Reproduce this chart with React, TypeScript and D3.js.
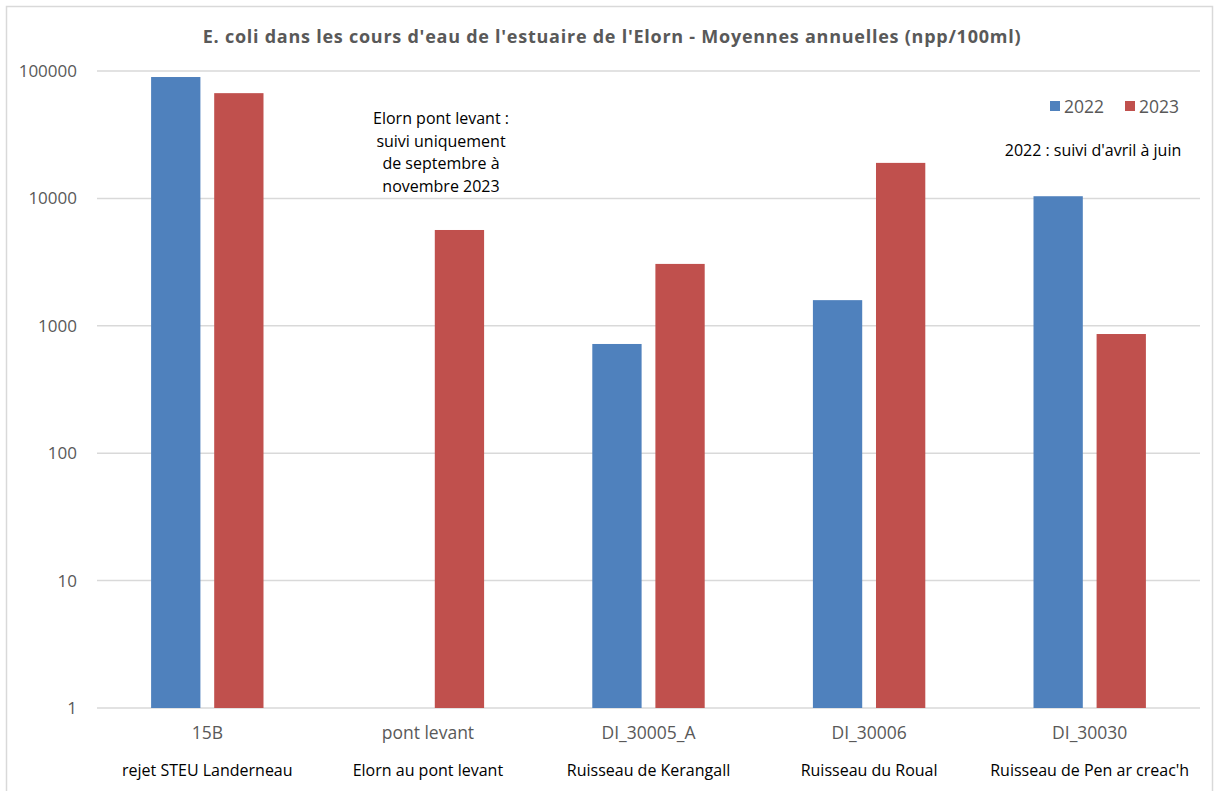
import React from "react";
import * as d3 from "d3";

const categories = ["15B", "pont levant", "DI_30005_A", "DI_30006", "DI_30030"];
const subLabels = [
  "rejet STEU Landerneau",
  "Elorn au pont levant",
  "Ruisseau de Kerangall",
  "Ruisseau du Roual",
  "Ruisseau de Pen ar creac'h",
];
const values2022: (number | null)[] = [89700, null, 720, 1590, 10400];
const values2023: (number | null)[] = [67000, 5650, 3060, 19000, 862];
const seriesNames = ["2022", "2023"];
const seriesColors = ["#4F81BD", "#C0504D"];
const yTicks = [1, 10, 100, 1000, 10000, 100000];
const title =
  "E. coli dans les cours d'eau de l'estuaire de l'Elorn - Moyennes annuelles (npp/100ml)";
const noteLeft = [
  "Elorn pont levant :",
  "suivi uniquement",
  "de septembre à",
  "novembre 2023",
];
const noteRight = "2022 : suivi d'avril à juin";

const W = 1217;
const H = 791;
const plot = { left: 97, right: 1200, top: 71, bottom: 708 };
const FONT = "'Open Sans', sans-serif";

export default function App() {
  const y = d3
    .scaleLog()
    .domain([1, 100000])
    .range([plot.bottom, plot.top]);
  const x = d3
    .scaleBand<string>()
    .domain(categories)
    .range([plot.left, plot.right]);
  const band = x.bandwidth();
  const barW = band * 0.2235;
  const gap = band * 0.0625;
  const series = [values2022, values2023];

  return (
    <svg
      width={W}
      height={H}
      style={{ position: "absolute", left: 0, top: 0, background: "#fff" }}
      fontFamily={FONT}
    >
      <rect x={0} y={0} width={W} height={H} fill="#fff" />
      <rect
        x={6.5}
        y={6.5}
        width={1206}
        height={790}
        fill="none"
        stroke="#D9D9D9"
        strokeWidth={1.5}
      />
      <text
        x={612}
        y={43}
        textAnchor="middle"
        fontSize={18}
        letterSpacing={0.75}
        fontWeight="bold"
        fill="#595959"
      >
        {title}
      </text>
      {yTicks.map((t) => (
        <g key={t}>
          <line
            x1={plot.left}
            x2={plot.right}
            y1={y(t)}
            y2={y(t)}
            stroke="#D9D9D9"
            strokeWidth={1.5}
          />
          <text
            x={77}
            y={y(t)}
            dy="0.35em"
            textAnchor="end"
            fontSize={17}
            fill="#595959"
          >
            {t}
          </text>
        </g>
      ))}
      {categories.map((c, i) => {
        const cx = (x(c) as number) + band / 2;
        return (
          <g key={c}>
            {series.map((s, si) => {
              const v = s[i];
              if (v == null) return null;
              const bx = si === 0 ? cx - gap / 2 - barW : cx + gap / 2;
              return (
                <rect
                  key={si}
                  x={bx}
                  y={y(v)}
                  width={barW}
                  height={plot.bottom - y(v)}
                  fill={seriesColors[si]}
                />
              );
            })}
            <text
              x={cx}
              y={739}
              textAnchor="middle"
              fontSize={17.5}
              fill="#595959"
            >
              {c}
            </text>
            <text x={cx} y={776} textAnchor="middle" fontSize={16} fill="#000">
              {subLabels[i]}
            </text>
          </g>
        );
      })}
      {seriesNames.map((n, i) => {
        const lx = 1050 + i * 75;
        return (
          <g key={n}>
            <rect x={lx} y={101} width={10} height={10} fill={seriesColors[i]} />
            <text x={lx + 14} y={112.5} fontSize={17.5} fill="#595959">
              {n}
            </text>
          </g>
        );
      })}
      <text x={1093} y={156} textAnchor="middle" fontSize={16} fill="#000">
        {noteRight}
      </text>
      {noteLeft.map((l, i) => (
        <text
          key={i}
          x={441}
          y={124 + i * 22.5}
          textAnchor="middle"
          fontSize={16}
          fill="#000"
        >
          {l}
        </text>
      ))}
    </svg>
  );
}
